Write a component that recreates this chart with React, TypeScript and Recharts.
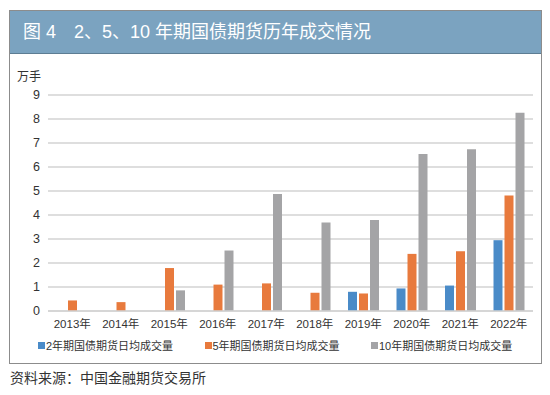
import React from "react";
import { BarChart, Bar, XAxis, YAxis, CartesianGrid, Legend } from "recharts";

const YEARS = ["2013年", "2014年", "2015年", "2016年", "2017年", "2018年", "2019年", "2020年", "2021年", "2022年"];
const TWO_YEAR = [null, null, null, null, null, null, 0.8, 0.94, 1.06, 2.95];
const FIVE_YEAR = [0.44, 0.37, 1.79, 1.1, 1.15, 0.76, 0.73, 2.38, 2.49, 4.81];
const TEN_YEAR = [null, null, 0.86, 2.52, 4.88, 3.69, 3.79, 6.54, 6.74, 8.26];
const Y_TICKS = [0, 1, 2, 3, 4, 5, 6, 7, 8, 9];

const SERIES = [
  { key: "two", name: "2年期国债期货日均成交量", color: "#4a8bc8" },
  { key: "five", name: "5年期国债期货日均成交量", color: "#e87a3d" },
  { key: "ten", name: "10年期国债期货日均成交量", color: "#a4a4a6" },
];

const data = YEARS.map((year, i) => ({
  year,
  two: TWO_YEAR[i],
  five: FIVE_YEAR[i],
  ten: TEN_YEAR[i],
}));

const FONT = '"Liberation Sans", "Noto Sans CJK SC", sans-serif';
const CJK = '"Noto Sans CJK SC", sans-serif';
const GRID = "#d3d3d3";

// legend items sit at fixed starts like the original (x ≈ 38, 204, 371)
function LegendRow() {
  return (
    <div style={{ position: "relative", height: 20, width: 542, fontFamily: FONT, fontSize: 11, color: "#333", whiteSpace: "nowrap" }}>
      {SERIES.map((s, i) => (
        <div
          key={s.key}
          style={{ position: "absolute", left: 38 + i * 166.5, top: 0, height: 20, display: "flex", alignItems: "center" }}
        >
          <span style={{ width: 7, height: 7, background: s.color, display: "inline-block", marginRight: 1 }} />
          <span>{s.name}</span>
        </div>
      ))}
    </div>
  );
}

export default function App() {
  return (
    <div style={{ position: "absolute", left: 0, top: 0, width: 550, height: 395, background: "#fff", fontFamily: CJK }}>
      <div
        style={{
          position: "absolute",
          left: 9,
          top: 10,
          width: 531,
          height: 352,
          border: "1px solid #8c8c8c",
        }}
      />
      <div
        style={{
          position: "absolute",
          left: 10,
          top: 11,
          width: 531,
          height: 43,
          background: "#7ba3c0",
          borderBottom: "1px solid #5d7d93",
          color: "#fff",
          fontSize: 18,
          lineHeight: "43px",
          paddingLeft: 13,
          boxSizing: "border-box",
          fontFamily: FONT,
        }}
      >
        图 4　2、5、10 年期国债期货历年成交情况
      </div>
      <div style={{ position: "absolute", left: 17, top: 67, fontSize: 12, color: "#333", fontFamily: CJK }}>万手</div>
      <div style={{ position: "absolute", left: 0, top: 55 }}>
        <BarChart
          width={542}
          height={304}
          data={data}
          margin={{ top: 40, right: 9, left: 9, bottom: 0 }}
          barSize={9}
          barGap={2}
        >
          <CartesianGrid vertical={false} stroke={GRID} strokeWidth={1.5} />
          <XAxis
            dataKey="year"
            tickLine={false}
            axisLine={{ stroke: GRID, strokeWidth: 1.5 }}
            height={24}
            tickMargin={3}
            tick={{ fontSize: 11.5, fill: "#333", fontFamily: FONT }}
            interval={0}
          />
          <YAxis
            width={39}
            domain={[0, 9]}
            ticks={Y_TICKS}
            tickLine={false}
            axisLine={false}
            tickMargin={2}
            tick={{ fontSize: 12.5, fill: "#333", fontFamily: FONT }}
          />
          <Legend
            verticalAlign="bottom"
            height={24}
            wrapperStyle={{ left: 0, width: 542 }}
            content={() => <LegendRow />}
          />
          {SERIES.map((s) => (
            <Bar key={s.key} dataKey={s.key} name={s.name} fill={s.color} isAnimationActive={false} />
          ))}
        </BarChart>
      </div>
      <div style={{ position: "absolute", left: 10, top: 367, fontSize: 14, color: "#333", fontFamily: CJK }}>
        资料来源：中国金融期货交易所
      </div>
    </div>
  );
}
